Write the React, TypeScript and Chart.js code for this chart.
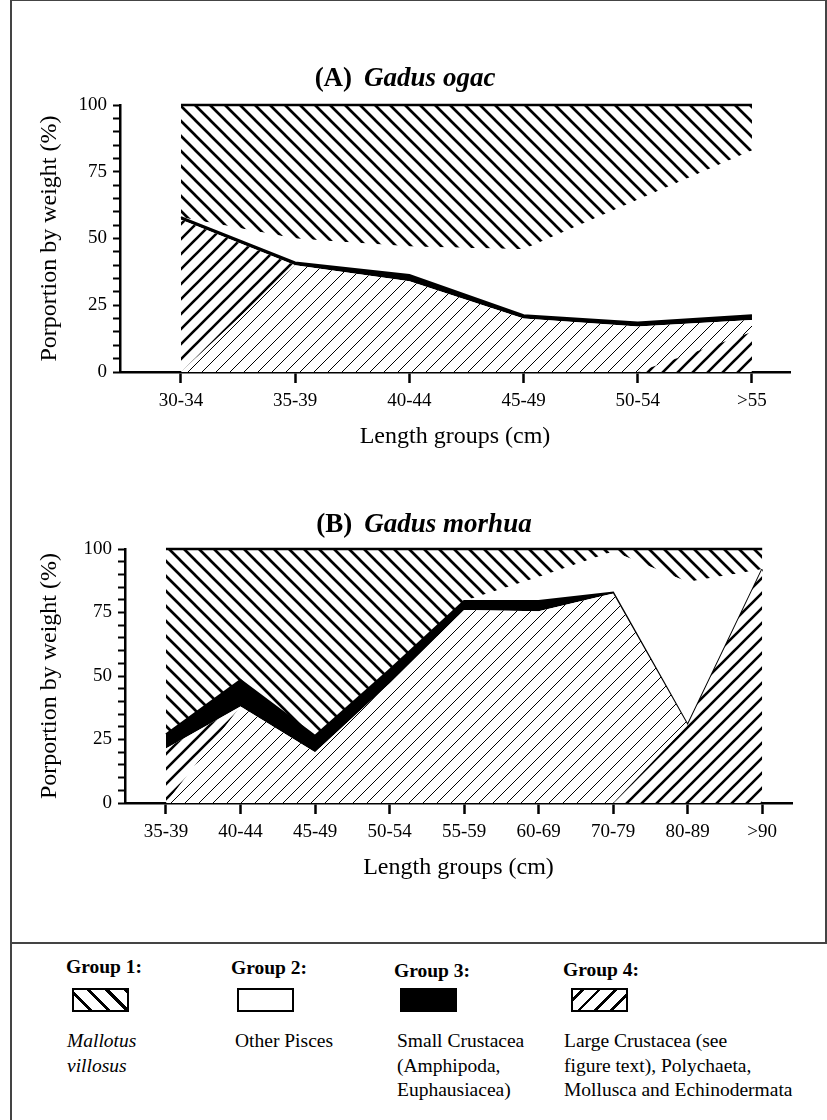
import React, { useEffect, useRef } from "react";
import { Chart, registerables } from "chart.js";

Chart.register(...registerables);

const SERIF = '"Liberation Serif", "Times New Roman", Times, serif';

// ---------- Panel A: Gadus ogac ----------
const lengthGroupsA = ["30-34", "35-39", "40-44", "45-49", "50-54", ">55"];
// Group 4 (large crustacea etc.) drawn in three hatch pieces, as in the original figure
const aG4ThickBottom = [0, 0, 0, 0, 0, 15];
const aG4Thin = [0, 40, 34, 20, 17, 4.5];
const aG4ThickTop = [57, 0, 0, 0, 0, 0];
const aG3 = [1, 1, 2.3, 1.3, 1.5, 1.8];
const aG2 = [0, 9, 10.7, 24.7, 46, 61.7];
const aG1 = [42, 50, 53, 54, 35.5, 17];

// ---------- Panel B: Gadus morhua ----------
const lengthGroupsB = ["35-39", "40-44", "45-49", "50-54", "55-59", "60-69", "70-79", "80-89", ">90"];
const bG4ThickBottom = [0, 0, 0, 0, 0, 0, 0, 30.7, 92];
const bG4Thin = [0, 38, 20, 47, 76, 75.5, 82.5, 0, 0];
const bG4ThickTop = [21.5, 0, 0, 0, 0, 0, 0, 0, 0];
const bG3 = [5.5, 10.4, 6.5, 5.5, 3.5, 4, 0.3, 0, 0];
const bG2 = [0, 0, 0, 0, 0, 9.5, 16.2, 56.3, 0];
const bG1 = [73, 51.6, 73.5, 47.5, 20.5, 11, 1, 13, 8];

const yAxisTitle = "Porportion by weight (%)";
const xAxisTitle = "Length groups (cm)";

type Series = {
  g4ThickBottom: number[];
  g4Thin: number[];
  g4ThickTop: number[];
  g3: number[];
  g2: number[];
  g1: number[];
};

type Geometry = {
  top: number;
  height: number;
  padTop: number;
  padRight: number;
  padBottom: number;
  yWidth: number;
  xMin: number;
  xMax: number;
};

function hatch(ctx: CanvasRenderingContext2D, dir: "/" | "\\", s: number, lw: number) {
  const c = document.createElement("canvas");
  c.width = s;
  c.height = s;
  const t = c.getContext("2d")!;
  t.fillStyle = "#fff";
  t.fillRect(0, 0, s, s);
  t.strokeStyle = "#000";
  t.lineWidth = lw;
  t.beginPath();
  for (const o of [-s, 0, s]) {
    if (dir === "/") {
      t.moveTo(o - 1, s + 1);
      t.lineTo(o + s + 1, -1);
    } else {
      t.moveTo(o - 1, -1);
      t.lineTo(o + s + 1, s + 1);
    }
  }
  t.stroke();
  return ctx.createPattern(c, "repeat")!;
}

function Panel({ labels, series, geo }: { labels: string[]; series: Series; geo: Geometry }) {
  const ref = useRef<HTMLCanvasElement>(null);
  useEffect(() => {
    const canvas = ref.current!;
    const ctx = canvas.getContext("2d")!;
    const thinFwd = hatch(ctx, "/", 14, 1);
    const thickFwd = hatch(ctx, "/", 15, 2.6);
    const thickBack = hatch(ctx, "\\", 15, 2.7);
    const pts = (arr: number[]) => arr.map((v, i) => ({ x: i, y: v }));
    const base = {
      pointRadius: 0,
      tension: 0,
      borderWidth: 0,
      borderColor: "rgba(0,0,0,0)",
      clip: false as const,
    };
    const tickFont = { family: SERIF, size: 19 };
    const titleFont = { family: SERIF, size: 24 };
    const chart = new Chart(canvas, {
      type: "line",
      data: {
        datasets: [
          { ...base, label: "Group 4", data: pts(series.g4ThickBottom), fill: "origin", backgroundColor: thickFwd },
          { ...base, label: "Group 4 ", data: pts(series.g4Thin), fill: "-1", backgroundColor: thinFwd },
          { ...base, label: "Group 4  ", data: pts(series.g4ThickTop), fill: "-1", backgroundColor: thickFwd },
          { ...base, label: "Group 3", data: pts(series.g3), fill: "-1", backgroundColor: "#000", borderColor: "#000", borderWidth: 2 },
          { ...base, label: "Group 2", data: pts(series.g2), fill: "-1", backgroundColor: "#fff" },
          { ...base, label: "Group 1", data: pts(series.g1), fill: "-1", backgroundColor: thickBack, borderColor: "#000", borderWidth: 2.5 },
        ] as any,
      },
      options: {
        responsive: false,
        animation: false,
        devicePixelRatio: 1,
        layout: { padding: { top: geo.padTop, right: geo.padRight, bottom: geo.padBottom, left: 0 } },
        plugins: { legend: { display: false }, tooltip: { enabled: false } },
        events: [],
        scales: {
          x: {
            type: "linear",
            min: geo.xMin,
            max: geo.xMax,
            afterBuildTicks: (s: any) => {
              s.ticks = labels.map((_, i) => ({ value: i }));
            },
            afterFit: (s: any) => {
              s.height = 79;
            },
            ticks: {
              autoSkip: false,
              maxRotation: 0,
              color: "#000",
              font: tickFont,
              padding: 7,
              callback: (v: any) => labels[Math.round(Number(v))] ?? "",
            },
            grid: { display: true, drawOnChartArea: false, drawTicks: true, tickLength: 11, tickWidth: 2.5, tickColor: "#000" },
            border: { display: true, color: "#000", width: 2.5 },
            title: { display: true, text: xAxisTitle, color: "#000", font: titleFont, padding: { top: 0, bottom: 0 } },
          },
          y: {
            type: "linear",
            stacked: true,
            min: 0,
            max: 100,
            afterFit: (s: any) => {
              s.width = geo.yWidth;
            },
            ticks: {
              stepSize: 5,
              autoSkip: false,
              color: "#000",
              font: tickFont,
              padding: 6,
              callback: (v: any) => (Number(v) % 25 === 0 ? String(v) : ""),
            },
            grid: { display: true, drawOnChartArea: false, drawTicks: true, tickLength: 7, tickWidth: 2, tickColor: "#000" },
            border: { display: true, color: "#000", width: 2.5 },
            title: { display: true, text: yAxisTitle, color: "#000", font: titleFont, padding: { top: 35, bottom: 0 } },
          },
        },
      } as any,
    });
    return () => chart.destroy();
  }, []);
  return (
    <canvas
      ref={ref}
      width={827}
      height={geo.height}
      style={{ position: "absolute", left: 0, top: geo.top, width: 827, height: geo.height }}
    />
  );
}

const abs = (s: React.CSSProperties): React.CSSProperties => ({ position: "absolute", ...s });

function PanelTitle({ letter, species, cx, cy }: { letter: string; species: string; cx: number; cy: number }) {
  return (
    <div
      style={abs({
        left: cx - 300,
        top: cy - 15,
        width: 600,
        textAlign: "center",
        font: `bold 27px ${SERIF}`,
        lineHeight: "30px",
        color: "#000",
        whiteSpace: "pre",
      })}
    >
      {letter}
      <span style={{ display: "inline-block", width: 12 }} />
      <i>{species}</i>
    </div>
  );
}

const legendGroups = ["Group 1:", "Group 2:", "Group 3:", "Group 4:"];
const legendTexts = [
  ["Mallotus", "villosus"],
  ["Other Pisces"],
  ["Small Crustacea", "(Amphipoda,", "Euphausiacea)"],
  ["Large Crustacea (see", "figure text), Polychaeta,", "Mollusca and Echinodermata"],
];

function Legend() {
  const labelX = [66, 231, 394, 563];
  const labelY = [956, 957, 960, 959];
  const boxX = [72, 237, 400, 571];
  const textX = [67, 235, 397, 564];
  const boxFill = [
    "repeating-linear-gradient(45deg, #fff 0px, #fff 10px, #000 10px, #000 13px)",
    "#fff",
    "#000",
    "repeating-linear-gradient(-45deg, #fff 0px, #fff 9px, #000 9px, #000 11.5px)",
  ];
  return (
    <>
      {legendGroups.map((g, i) => (
        <div key={g} style={abs({ left: labelX[i], top: labelY[i], font: `bold 19.5px ${SERIF}`, lineHeight: "22px", color: "#000" })}>
          {g}
        </div>
      ))}
      {boxFill.map((bg, i) => (
        <div
          key={i}
          style={abs({ left: boxX[i], top: 988, width: 57, height: 24, boxSizing: "border-box", border: "2px solid #000", background: bg })}
        />
      ))}
      {legendTexts.map((lines, i) => (
        <div
          key={i}
          style={abs({
            left: textX[i],
            top: 1029,
            font: `${i === 0 ? "italic " : ""}19.5px ${SERIF}`,
            lineHeight: "24.5px",
            color: "#000",
            whiteSpace: "nowrap",
          })}
        >
          {lines.map((l, j) => (
            <div key={j}>{l}</div>
          ))}
        </div>
      ))}
    </>
  );
}

export default function App() {
  const geoA: Geometry = { top: 0, height: 470, padTop: 105, padRight: 37, padBottom: 19, yWidth: 120, xMin: -0.534, xMax: 5.333 };
  const geoB: Geometry = { top: 470, height: 470, padTop: 79, padRight: 35, padBottom: 58, yWidth: 125, xMin: -0.55, xMax: 8.4 };
  const seriesA: Series = { g4ThickBottom: aG4ThickBottom, g4Thin: aG4Thin, g4ThickTop: aG4ThickTop, g3: aG3, g2: aG2, g1: aG1 };
  const seriesB: Series = { g4ThickBottom: bG4ThickBottom, g4Thin: bG4Thin, g4ThickTop: bG4ThickTop, g3: bG3, g2: bG2, g1: bG1 };
  return (
    <div style={abs({ left: 0, top: 0, width: 827, height: 1120, background: "#fff", overflow: "hidden", fontFamily: SERIF })}>
      <Panel labels={lengthGroupsA} series={seriesA} geo={geoA} />
      <Panel labels={lengthGroupsB} series={seriesB} geo={geoB} />
      <PanelTitle letter="(A)" species="Gadus ogac" cx={405} cy={77} />
      <PanelTitle letter="(B)" species="Gadus morhua" cx={424} cy={523} />
      {/* frame lines */}
      <div style={abs({ left: 10, top: 0, width: 1.5, height: 1120, background: "#444" })} />
      <div style={abs({ left: 10, top: 0, width: 817, height: 1, background: "#444" })} />
      <div style={abs({ left: 825, top: 0, width: 1.5, height: 943, background: "#444" })} />
      <div style={abs({ left: 10, top: 942, width: 817, height: 1.5, background: "#444" })} />
      <Legend />
    </div>
  );
}
